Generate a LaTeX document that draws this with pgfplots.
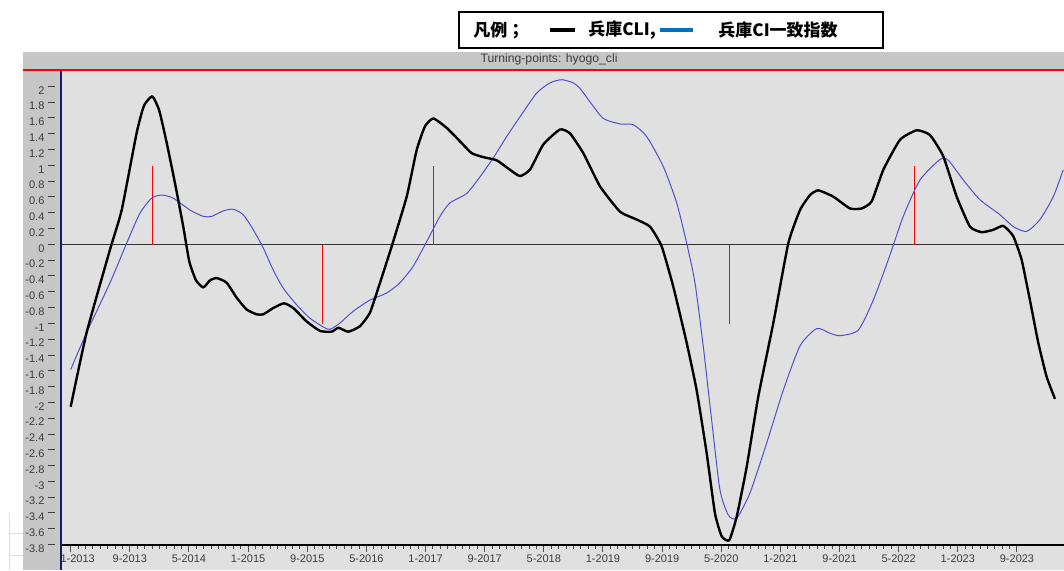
\documentclass[border=0pt]{standalone}
\usepackage{fontspec}
\setmainfont{Liberation Sans}
\newfontfamily\cjk{Noto Sans CJK JP}
\usepackage{pgfplots}
\usepackage{pgfplotstable}
\pgfplotsset{compat=1.18}

\definecolor{plotbg}{RGB}{224,224,224}
\definecolor{framegray}{RGB}{198,198,198}
\definecolor{ciblue}{RGB}{80,80,205}
\definecolor{legblue}{RGB}{0,112,192}
\definecolor{navyaxis}{RGB}{25,25,110}
\definecolor{ticktext}{RGB}{60,60,60}

% months since 1-2013, value
\pgfplotstableread{
t y
0 -2.05
2.16 -1.11
5.32 -0.06
6.90 0.44
8.93 1.42
9.91 1.76
11.04 1.88
11.98 1.70
12.99 1.29
14.11 0.78
15.23 0.23
16.04 -0.21
16.95 -0.45
17.94 -0.54
18.84 -0.45
19.75 -0.42
21.10 -0.48
22.45 -0.67
23.81 -0.82
25.16 -0.88
26.05 -0.88
27.40 -0.80
28.85 -0.74
30.11 -0.80
31.92 -0.97
33.72 -1.09
35.30 -1.10
36.20 -1.05
37.55 -1.10
39.13 -1.03
40.48 -0.86
41.84 -0.48
43.42 -0.02
45.45 0.61
46.80 1.20
47.92 1.50
49.05 1.60
50.86 1.48
52.66 1.31
54.24 1.16
55.81 1.11
57.62 1.07
59.42 0.95
60.77 0.87
62.12 0.95
63.93 1.27
66.18 1.46
67.54 1.41
69.34 1.16
71.60 0.74
74.30 0.42
76.56 0.32
78.36 0.23
79.94 -0.02
81.51 -0.53
83.32 -1.24
84.67 -1.84
86.03 -2.64
87.15 -3.40
88.06 -3.69
89.08 -3.74
90.09 -3.44
91.44 -2.81
93.01 -1.92
95.04 -0.99
97.07 0.02
98.65 0.44
100.00 0.63
101.12 0.69
103.15 0.61
105.41 0.46
106.99 0.46
108.35 0.55
109.92 0.95
112.18 1.33
114.43 1.45
116.23 1.39
118.03 1.12
119.84 0.61
121.64 0.23
123.22 0.16
124.79 0.19
126.14 0.24
127.49 0.11
128.63 -0.19
129.75 -0.70
130.88 -1.24
132.01 -1.67
133.14 -1.95
}\cli

\pgfplotstableread{
t y
0 -1.58
2.16 -1.11
5.32 -0.48
7.57 0.02
9.37 0.40
10.96 0.59
12.31 0.63
13.88 0.59
16.14 0.44
17.94 0.36
19.07 0.36
20.64 0.43
21.99 0.45
23.35 0.38
24.70 0.19
26.05 -0.04
27.40 -0.32
28.76 -0.55
30.57 -0.76
32.37 -0.93
34.17 -1.04
35.07 -1.07
36.43 -0.99
38.23 -0.84
40.48 -0.70
42.74 -0.61
44.54 -0.48
46.34 -0.27
48.15 0.04
49.95 0.36
51.30 0.53
53.56 0.65
55.36 0.86
57.16 1.10
58.97 1.37
60.77 1.62
63.03 1.92
64.83 2.05
66.41 2.09
67.98 2.05
68.89 1.98
70.24 1.81
72.04 1.60
74.30 1.53
76.10 1.52
77.91 1.37
80.16 0.99
81.97 0.53
83.32 0.02
84.44 -0.48
85.57 -1.29
86.70 -2.22
87.82 -3.10
88.95 -3.42
90.09 -3.46
91.89 -3.14
94.14 -2.51
96.39 -1.84
98.65 -1.28
100.91 -1.06
102.71 -1.12
104.06 -1.15
106.53 -1.08
108.56 -0.70
110.59 -0.19
112.62 0.36
114.88 0.82
117.58 1.08
118.71 1.07
120.74 0.82
123.00 0.57
125.71 0.38
127.51 0.23
129.31 0.17
131.11 0.32
132.91 0.61
134.26 0.95
}\ci

\begin{document}
\begin{tikzpicture}
  \useasboundingbox (0,0) rectangle (532pt,285pt);
  % window frame
  \fill[framegray] (11.5pt,0) rectangle (532pt,259pt);
  \fill[plotbg] (30.5pt,0) rectangle (532pt,249.5pt);
  \fill[red] (11.5pt,249.4pt) rectangle (532pt,250.6pt);
  \node[font=\fontsize{6.1pt}{7pt}\selectfont, text=ticktext] at (274.5pt,255.2pt) {Turning-points: hyogo\_cli};
  % faint lines bottom left
  \draw[black!12, line width=0.4pt] (4.5pt,0) -- (4.5pt,28.5pt);
  \draw[black!12, line width=0.4pt] (4.5pt,18.5pt) -- (11.5pt,18.5pt);
  \draw[black!12, line width=0.4pt] (4.5pt,7.5pt) -- (11.5pt,7.5pt);

  % legend box
  \draw[line width=0.7pt, fill=white] (229.5pt,279pt) rectangle (441.5pt,261pt);
  \node[anchor=west, inner sep=0pt, font=\cjk\bfseries\fontsize{8.5pt}{9pt}\selectfont] at (236.5pt,270pt) {凡例；};
  \draw[line width=2pt, black] (275pt,270pt) -- (287.5pt,270pt);
  \node[anchor=west, inner sep=0pt, font=\cjk\bfseries\fontsize{8.5pt}{9pt}\selectfont] at (294pt,270pt) {兵庫CLI,};
  \draw[line width=1.6pt, legblue] (330pt,270pt) -- (346.5pt,270pt);
  \node[anchor=west, inner sep=0pt, font=\cjk\bfseries\fontsize{8.5pt}{9pt}\selectfont] at (359pt,270pt) {兵庫CI一致指数};

  \begin{axis}[
      at={(30.5pt,12.5pt)}, anchor=south west,
      scale only axis, width=501.5pt, height=237pt,
      xmin=-1.31, xmax=134.36, ymin=-3.8, ymax=2.2,
      axis lines*=left,
      x axis line style={line width=0.9pt, black},
      y axis line style={draw=none},
      tick align=outside,
      xtick={0,8,...,128},
      xticklabels={{\hspace*{7pt}1-2013},9-2013,5-2014,1-2015,9-2015,5-2016,1-2017,9-2017,5-2018,1-2019,9-2019,5-2020,1-2021,9-2021,5-2022,1-2023,9-2023},
      minor x tick num=7,
      major tick length=3.5pt, minor tick length=2.2pt,
      x tick style={black!70, line width=0.5pt},
      ytick={-3.8,-3.6,...,2.05},
      y tick style={draw=none},
      yticklabel={\pgfmathprintnumber{\tick}\hspace{1.6pt}\rule[3.6pt]{3.5pt}{0.5pt}},
      /pgf/number format/fixed, /pgf/number format/precision=1,
      /pgf/number format/assume math mode=true,
      tick label style={font=\fontsize{5.5pt}{6pt}\selectfont, text=ticktext},
      yticklabel style={anchor=east, inner sep=0pt, xshift=0.5pt, yshift=-1.6pt},
      xticklabel style={anchor=north, inner sep=0pt, yshift=-1.2pt},
      clip=true,
    ]
    \addplot[black!80, line width=0.5pt, forget plot] coordinates {(-1.31,0) (134.36,0)};
    \addplot[red, line width=0.5pt] coordinates {(11.04,0) (11.04,1)};
    \addplot[red, line width=0.5pt] coordinates {(34.04,0) (34.04,-1)};
    \addplot[red, line width=0.5pt] coordinates {(49.05,0) (49.05,1)};
    \addplot[red, line width=0.5pt] coordinates {(89.14,0) (89.14,-1)};
    \addplot[red, line width=0.5pt] coordinates {(114.1,0) (114.1,1)};
    \addplot[ciblue, line width=0.5pt, smooth, tension=0.4] table[x=t, y=y] {\ci};
    \addplot[black, line width=1.2pt, smooth, tension=0.3, line join=round] table[x=t, y=y] {\cli};
  \end{axis}
  \draw[navyaxis, line width=0.8pt] (30.5pt,0) -- (30.5pt,249.4pt);
\end{tikzpicture}
\end{document}
